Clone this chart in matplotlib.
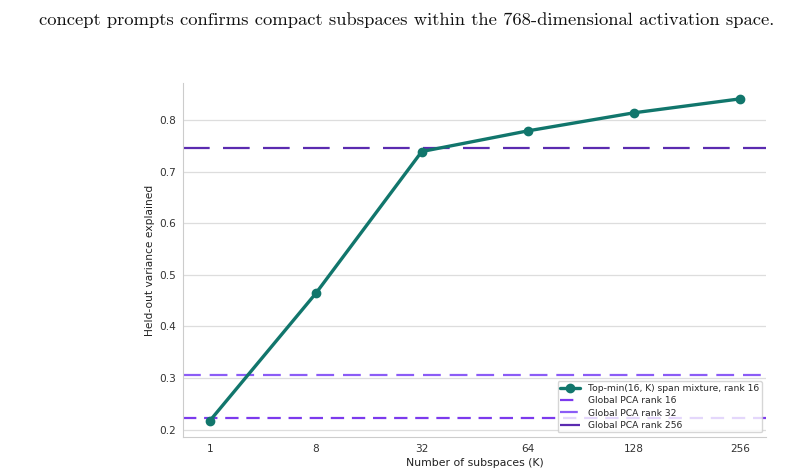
import matplotlib.pyplot as plt
import seaborn as sns

# Data
k_labels = ["1", "8", "32", "64", "128", "256"]
mixture_var = [0.217, 0.464, 0.739, 0.779, 0.814, 0.841]
pca_rank16 = 0.223
pca_rank32 = 0.306
pca_rank256 = 0.746

caption = "concept prompts confirms compact subspaces within the 768-dimensional activation space."

sns.set_style("whitegrid")
plt.rcParams['font.family'] = ['DejaVu Sans']

fig = plt.figure(figsize=(8, 4.73), dpi=100)
ax = fig.add_axes([0.229, 0.076, 0.729, 0.749])

x = list(range(len(k_labels)))
ax.plot(x, mixture_var, color="#11766c", lw=2.4, marker="o", ms=6,
        label="Top-min(16, K) span mixture, rank 16", zorder=3)
ax.axhline(pca_rank16, color="#7c3aed", lw=1.6, dashes=(6, 3.5),
           label="Global PCA rank 16")
ax.axhline(pca_rank32, color="#8b5cf6", lw=1.6, dashes=(8, 4),
           label="Global PCA rank 32")
ax.axhline(pca_rank256, color="#5b2bb0", lw=1.6, dashes=(12, 6),
           label="Global PCA rank 256")

ax.set_xticks(x)
ax.set_xticklabels(k_labels)
ax.set_yticks([0.2, 0.3, 0.4, 0.5, 0.6, 0.7, 0.8])
ax.tick_params(labelsize=7.6, colors="#333333", length=0, pad=5)
ax.set_xlabel("Number of subspaces (K)", fontsize=7.8, color="#222222", labelpad=3)
ax.set_ylabel("Held-out variance explained", fontsize=7.7, color="#222222", labelpad=3)

ax.grid(axis="x", visible=False)
ax.grid(axis="y", color="#dddddd", lw=0.9)
for side in ["top", "right"]:
    ax.spines[side].set_visible(False)
for side in ["left", "bottom"]:
    ax.spines[side].set_color("#cccccc")

ax.legend(loc="lower right", fontsize=6.6, frameon=True, borderpad=0.3,
          labelspacing=0.35, handlelength=2.2)

fig.text(0.508, 0.957, caption, ha="center", va="center", fontsize=13.4,
         family="cmr10", color="#111111")

fig.savefig("out.png", dpi=100)
